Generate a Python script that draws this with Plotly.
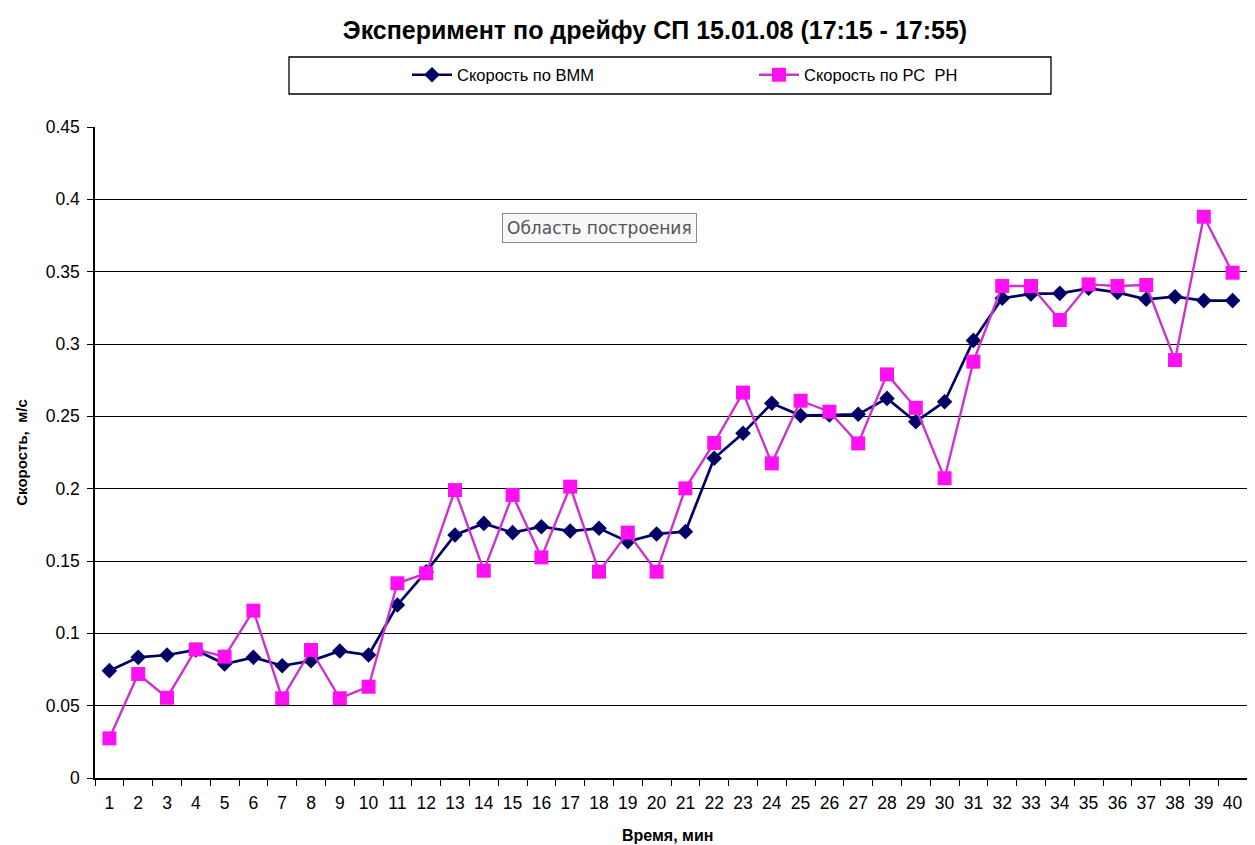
import plotly.graph_objects as go

minutes = [str(i) for i in range(1, 41)]

speed_bmm = [0.0742, 0.0834, 0.0850, 0.0885, 0.0788, 0.0834, 0.0776, 0.0810, 0.0878, 0.0850,
             0.1196, 0.1426, 0.1680, 0.1760, 0.1696, 0.1737, 0.1707, 0.1726, 0.1634, 0.1687,
             0.1703, 0.2210, 0.2383, 0.2590, 0.2505, 0.2509, 0.2514, 0.2624, 0.2463, 0.2601,
             0.3025, 0.3316, 0.3346, 0.3350, 0.3385, 0.3357, 0.3309, 0.3327, 0.3300, 0.3300]

speed_rs = [0.0274, 0.0719, 0.0555, 0.0889, 0.0839, 0.1157, 0.0551, 0.0885, 0.0551, 0.0631,
            0.1346, 0.1415, 0.1990, 0.1433, 0.1956, 0.1525, 0.2014, 0.1426, 0.1696, 0.1426,
            0.2002, 0.2316, 0.2664, 0.2175, 0.2608, 0.2532, 0.2313, 0.2790, 0.2559, 0.2072,
            0.2878, 0.3401, 0.3401, 0.3166, 0.3412, 0.3401, 0.3408, 0.2889, 0.3880, 0.3493]

y_ticks = [0, 0.05, 0.1, 0.15, 0.2, 0.25, 0.3, 0.35, 0.4, 0.45]
y_tick_labels = ["0", "0.05", "0.1", "0.15", "0.2", "0.25", "0.3", "0.35", "0.4", "0.45"]

FONT = "Liberation Sans, Arial, sans-serif"

# page offset (default body margin of the html page)
OFF = 8
VISIBLE_RIGHT = 1247
W, H = VISIBLE_RIGHT - OFF, 845 - OFF
# plot area in screen coordinates
SL, ST, SR, SB = 95, 127, VISIBLE_RIGHT, 778
L, T = SL - OFF, ST - OFF
R = W - (SR - OFF)
B = H - (SB - OFF)
pw, ph = W - L - R, H - T - B


def px(x):
    return (x - SL) / pw


def py(y):
    return (SB - y) / ph


fig = go.Figure()
fig.add_trace(go.Scatter(
    x=minutes, y=speed_bmm, mode="lines+markers", name="Скорость по ВММ",
    line=dict(color="#000066", width=2.7),
    marker=dict(symbol="diamond", size=12, color="#000066"),
))
fig.add_trace(go.Scatter(
    x=minutes, y=speed_rs, mode="lines+markers", name="Скорость по РС  РН",
    line=dict(color="#CC33CC", width=2.4),
    marker=dict(symbol="square", size=14, color="#FF10F0"),
))

fig.add_shape(type="rect", xref="paper", yref="paper",
              x0=px(289), x1=px(1051), y0=py(94), y1=py(57),
              line=dict(color="black", width=1.3), fillcolor="white", layer="below")

fig.add_annotation(xref="paper", yref="paper", x=px(599), y=py(228),
                   xanchor="center", yanchor="middle",
                   text="Область построения", showarrow=False,
                   font=dict(family="DejaVu Sans, Arial, sans-serif", size=17, color="#555555"),
                   bgcolor="#F8F8FA", bordercolor="#8A8A8A", borderwidth=1, borderpad=4)

fig.add_annotation(xref="paper", yref="paper", x=px(667), y=py(835),
                   xanchor="center", yanchor="middle",
                   text="<b>Время, мин</b>", showarrow=False,
                   font=dict(family=FONT, size=16, color="black"))

fig.update_layout(
    width=W, height=H,
    margin=dict(l=L, r=R, t=T, b=B),
    paper_bgcolor="white", plot_bgcolor="white",
    font=dict(family=FONT, color="black"),
    title=dict(text="<b>Эксперимент по дрейфу СП 15.01.08 (17:15 - 17:55)</b>",
               xref="container", yref="container", x=(655 - OFF) / W, y=1 - (30 - OFF) / H,
               xanchor="center", yanchor="middle",
               font=dict(family=FONT, size=25, color="black")),
    showlegend=True,
    legend=dict(orientation="h", xref="paper", yref="paper",
                x=px(407), y=py(75), xanchor="left", yanchor="middle",
                bgcolor="rgba(0,0,0,0)", borderwidth=0,
                font=dict(family=FONT, size=16.5, color="black"),
                entrywidth=292, itemwidth=40),
    xaxis=dict(type="category", range=[-0.5, 39.5],
               showline=True, linecolor="black", linewidth=1.5,
               ticks="outside", tickson="boundaries", ticklen=6, tickcolor="black",
               ticklabelstandoff=8,
               showgrid=False, tickfont=dict(size=17.5), zeroline=False),
    yaxis=dict(range=[0, 0.45], tickvals=y_ticks, ticktext=y_tick_labels,
               showline=True, linecolor="black", linewidth=1.5,
               ticks="outside", ticklen=6, tickcolor="black",
               ticklabelstandoff=4,
               showgrid=True, gridcolor="black", gridwidth=1,
               tickfont=dict(size=17.5), zeroline=False,
               title=dict(text="<b>Скорость,  м/с</b>", font=dict(size=15), standoff=14)),
)

fig.write_html("out.html")
